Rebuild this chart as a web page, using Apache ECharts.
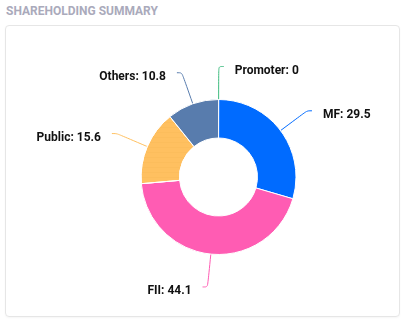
<!DOCTYPE html>
<html><head><meta charset="utf-8">
<script src="https://cdn.jsdelivr.net/npm/echarts@6/dist/echarts.min.js"></script>
<style>
html,body{margin:0;padding:0;background:#fff;width:407px;height:325px;overflow:hidden;font-family:Roboto,sans-serif;}
#title{position:absolute;left:6px;top:4px;font:bold 12px Roboto,sans-serif;color:#aaaabb;letter-spacing:0;}
#card{position:absolute;left:5px;top:25px;width:393px;height:290px;border:1px solid #e6e6e6;border-radius:4px;box-shadow:0 1px 2px rgba(0,0,0,0.04);}
#chart{position:absolute;left:0;top:0;width:407px;height:325px;}
</style></head>
<body>
<div id="title">SHAREHOLDING SUMMARY</div>
<div id="card"></div>
<div id="chart"></div>
<script>
const categories = ['Promoter', 'MF', 'FII', 'Public', 'Others'];
const values = [0, 29.5, 44.1, 15.6, 10.8];
const colors = ['#3dbb7e', '#006bff', '#ff5cb3', '#ffc060', '#587cad'];

const chart = echarts.init(document.getElementById('chart'), null, {renderer: 'canvas'});
const data = categories.map((c, i) => {
  const item = {name: c, value: values[i], itemStyle: {color: colors[i]}};
  if (c === 'Public') {
    item.itemStyle.decal = {symbol: 'circle', symbolSize: 0.5, color: 'rgba(190,120,20,0.25)', dashArrayX: [1, 0], dashArrayY: [5, 0], rotation: 0};
  }
  return item;
});
chart.setOption({
  animation: false,
  series: [{
    type: 'pie',
    center: [218.5, 177],
    radius: [39, 77.5],
    startAngle: 89.9,
    clockwise: true,
    avoidLabelOverlap: true,
    itemStyle: {borderColor: '#fff', borderWidth: 1},
    label: {
      show: true,
      formatter: p => p.name + ': ' + p.value,
      fontFamily: 'Roboto',
      fontWeight: 'bold',
      fontSize: 12,
      color: '#111',
      offset: [0, 4],
      distanceToLabelLine: 11
    },
    labelLine: {show: true, length: 33, length2: 5, smooth: true, lineStyle: {width: 1}},
    data: data
  }]
});
</script>
</body></html>
